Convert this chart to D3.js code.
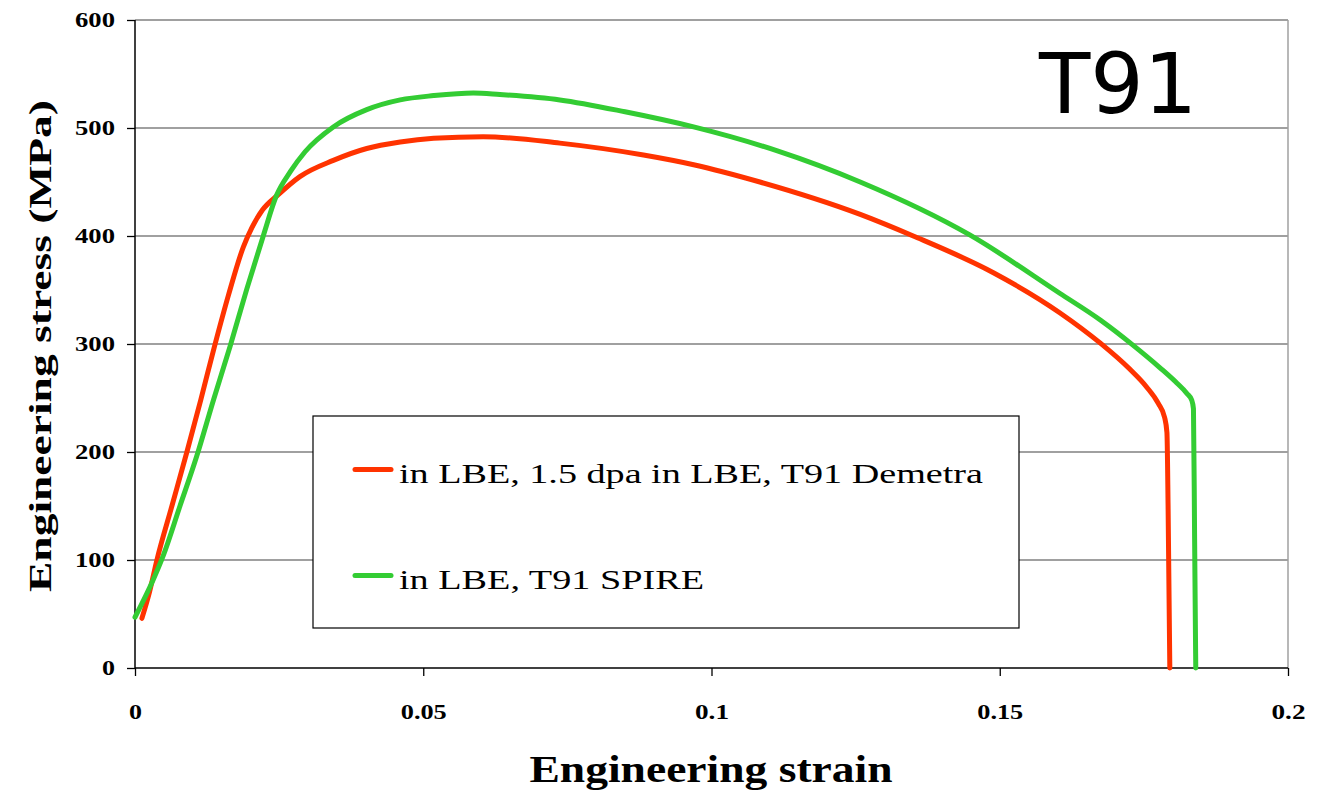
<!DOCTYPE html>
<html><head><meta charset="utf-8">
<script src="https://cdn.jsdelivr.net/npm/d3@7"></script>
<style>body{margin:0;background:#fff}svg{display:block}</style>
</head><body><svg id="c" width="1321" height="793"></svg>
<script>
const xTicks = [0, 0.05, 0.1, 0.15, 0.2];
const xTickLabels = ["0", "0.05", "0.1", "0.15", "0.2"];
const yTicks = [0, 100, 200, 300, 400, 500, 600];
const seriesNames = ["in LBE, 1.5 dpa in LBE, T91 Demetra", "in LBE, T91 SPIRE"];
const demetraStrain = [0.0012,0.0025,0.0038,0.0064,0.009,0.0114,0.0137,0.0162,0.0188,0.0203,0.0221,0.0248,0.0286,0.0344,0.0402,0.046,0.0518,0.0604,0.0737,0.0882,0.0969,0.1084,0.1258,0.135,0.1489,0.1604,0.1674,0.1725,0.1755,0.1775,0.1786,0.179,0.1792,0.1795];
const demetraStress = [46,70,100,150,200,248,296,345,390,408,424,438,455,470,481,487,490.5,492,486,475,466,450,420,400,366,329,301,277,260,245,232,218,150,0];
const spireStrain = [0,0.0031,0.0049,0.0078,0.0107,0.0136,0.0165,0.0194,0.0223,0.0245,0.027,0.0295,0.0344,0.0402,0.046,0.0518,0.0587,0.0633,0.0737,0.085,0.0969,0.1113,0.1258,0.1448,0.1604,0.1675,0.1731,0.1778,0.1805,0.1825,0.1833,0.1836,0.1838,0.184];
const spireStress = [47,81,104,150,196,248,298,351,401,437,460,478,501,517,526,530,532.5,531,526,515,501,479,450,401,347,322,299,278,265,254,248,240,120,0];
const colors = ["#ff3300", "#33cc33"];

const svg = d3.select("#c");
const L = 135, R = 1288, T = 20, B = 668;
const x = d3.scaleLinear().domain([0, 0.2]).range([L, R]);
const y = d3.scaleLinear().domain([0, 600]).range([B, T]);
const serif = "Liberation Serif, Times New Roman, serif";

// gridlines
svg.append("g").selectAll("line").data(yTicks.filter(d => d > 0)).join("line")
  .attr("x1", L).attr("x2", R).attr("y1", d => y(d)).attr("y2", d => y(d))
  .attr("stroke", "#808080").attr("stroke-width", 1.3);
svg.append("line").attr("x1", R).attr("x2", R).attr("y1", T).attr("y2", B)
  .attr("stroke", "#a0a0a0").attr("stroke-width", 1.5);

// axes
const yAxis = svg.append("g").attr("transform", `translate(${L},0)`)
  .call(d3.axisLeft(y).tickValues(yTicks).tickSize(8).tickFormat(d3.format("d")));
const xAxis = svg.append("g").attr("transform", `translate(0,${B})`)
  .call(d3.axisBottom(x).tickValues(xTicks).tickSize(8).tickFormat((d, i) => xTickLabels[i]));
[yAxis, xAxis].forEach(g => {
  g.select(".domain").attr("stroke", "#000").attr("stroke-width", 1.5);
  g.selectAll(".tick line").attr("stroke", "#000").attr("stroke-width", 1.3);
  g.selectAll("text").attr("font-family", serif)
    .attr("font-weight", "bold").attr("font-size", 20).attr("fill", "#000");
});
yAxis.selectAll("text").attr("x", -20).attr("textLength", 40).attr("lengthAdjust", "spacingAndGlyphs");
yAxis.selectAll(".tick").filter(d => d === 0).select("text").attr("textLength", 13);
xAxis.selectAll("text").attr("y", 37)
  .attr("textLength", (d, i) => [13, 46, 34, 46, 34][i]).attr("lengthAdjust", "spacingAndGlyphs");
xAxis.select(".domain").attr("d", `M${L},0H${R}`);
yAxis.select(".domain").attr("d", `M0,${T}V${B}`);

// lines
const line = d3.line().x(d => x(d[0])).y(d => y(d[1])).curve(d3.curveMonotoneX);
const series = [d3.zip(demetraStrain, demetraStress), d3.zip(spireStrain, spireStress)];
[0, 1].forEach(i => {
  svg.append("path").datum(series[i]).attr("d", line)
    .attr("fill", "none").attr("stroke", colors[i]).attr("stroke-width", 5)
    .attr("stroke-linejoin", "round").attr("stroke-linecap", "round");
});

// legend
const lg = svg.append("g");
lg.append("rect").attr("x", 313).attr("y", 416).attr("width", 706).attr("height", 212)
  .attr("fill", "#fff").attr("stroke", "#000").attr("stroke-width", 1.2);
const legendY = [469.5, 575.5];
const legendLen = [584, 305];
legendY.forEach((yy, i) => {
  lg.append("line").attr("x1", 355).attr("x2", 391).attr("y1", yy).attr("y2", yy)
    .attr("stroke", colors[i]).attr("stroke-width", 5).attr("stroke-linecap", "round");
  lg.append("text").attr("x", 399).attr("y", yy + 13.5).text(seriesNames[i])
    .attr("font-family", serif).attr("font-size", 28).attr("fill", "#000")
    .attr("textLength", legendLen[i]).attr("lengthAdjust", "spacingAndGlyphs");
});

// titles
svg.append("text").attr("x", 711).attr("y", 782).attr("text-anchor", "middle")
  .attr("font-family", serif).attr("font-weight", "bold")
  .attr("font-size", 38).attr("textLength", 363).attr("lengthAdjust", "spacingAndGlyphs")
  .text("Engineering strain");
svg.append("text").attr("transform", "translate(51,346) rotate(-90)").attr("text-anchor", "middle")
  .attr("font-family", serif).attr("font-weight", "bold")
  .attr("font-size", 32).attr("textLength", 492).attr("lengthAdjust", "spacingAndGlyphs")
  .text("Engineering stress (MPa)");
svg.append("text").attr("x", 1118).attr("y", 113).attr("text-anchor", "middle")
  .attr("font-family", "DejaVu Sans, Verdana, sans-serif").attr("font-size", 84).text("T91");
</script></body></html>
